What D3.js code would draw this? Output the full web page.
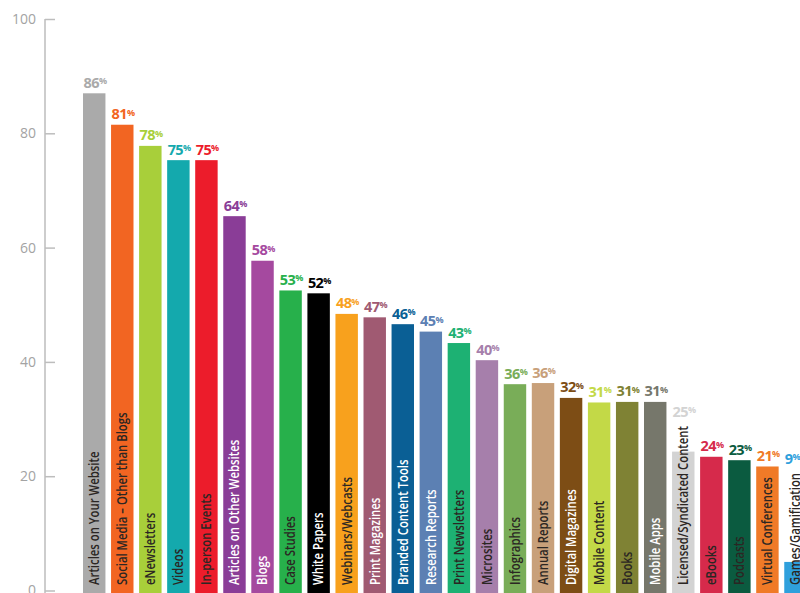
<!DOCTYPE html>
<html>
<head>
<meta charset="utf-8">
<script src="https://cdn.jsdelivr.net/npm/d3@7"></script>
<style>
    body { margin: 0; background: #fff; }
    #chart { width: 800px; height: 593px; overflow: hidden; }
    .tick text { font-family: "Open Sans", sans-serif; font-size: 14px; fill: #a3a3a3; }
    .pct { font-family: "Open Sans", sans-serif; font-weight: 700; font-size: 14.5px; letter-spacing: -0.6px; }
    .cat { font-family: "Open Sans", sans-serif; font-size: 13.5px; font-weight: 600; }
</style>
</head>
<body>
<div id="chart"></div>
<script>
// categories, left to right
var categories = [
    "Articles on Your Website", "Social Media \u2013 Other than Blogs", "eNewsletters", "Videos",
    "In-person Events", "Articles on Other Websites", "Blogs", "Case Studies", "White Papers",
    "Webinars/Webcasts", "Print Magazines", "Branded Content Tools", "Research Reports",
    "Print Newsletters", "Microsites", "Infographics", "Annual Reports", "Digital Magazines",
    "Mobile Content", "Books", "Mobile Apps", "Licensed/Syndicated Content", "eBooks",
    "Podcasts", "Virtual Conferences", "Games/Gamification"
];

// printed percentages
var shares = [86, 81, 78, 75, 75, 64, 58, 53, 52, 48, 47, 46, 45, 43, 40, 36, 36, 32, 31, 31, 31, 25, 24, 23, 21, 9];

// bar heights as drawn in the picture (read against the axis)
var barLevels = [87, 81.5, 77.8, 75.3, 75.3, 65.5, 57.7, 52.5, 52, 48.4, 47.8, 46.6, 45.3, 43.3, 40.3,
    36.1, 36.3, 33.7, 32.9, 33, 33, 24.3, 23.4, 22.8, 21.7, 5];

var barColors = [
    "#aaaaaa", "#f26522", "#a8cf3a", "#14a9ad", "#ec1c2b", "#8a3d97", "#a5499f", "#27b04b", "#000000",
    "#f8a11d", "#a05a72", "#0a5f95", "#5c80b3", "#1db173", "#a67fab", "#79ad58", "#c8a07a", "#7d4d15",
    "#c3d947", "#7f8234", "#76776b", "#d3d3d3", "#d62a4b", "#0b5b40", "#f07a27", "#2fa0dc"
];

// label text inside the bars: "d" dark, "w" white
var textTones = ["d", "d", "d", "d", "d", "w", "w", "d", "w", "d", "w", "w", "w", "d", "d", "d", "d", "w",
    "d", "d", "w", "d", "d", "d", "d", "d"];

var tickValues = [0, 20, 40, 60, 80, 100];

function init() {
    var w = 800;
    var h = 593;
    var textBase = 585;
    var squeeze = 0.84;

    var svg = d3.select("#chart")
        .append("svg")
        .attr("width", w)
        .attr("height", h);

    var yScale = d3.scaleLinear()
        .domain([0, 100])
        .range([590.5, 19]);

    var xScale = d3.scaleBand()
        .domain(categories)
        .range([80.2, 809.5])
        .paddingInner(0.2)
        .paddingOuter(0.1);

    // y axis, ticks point into the plot
    var yAxis = d3.axisLeft(yScale)
        .tickValues(tickValues)
        .tickSizeInner(-10)
        .tickSizeOuter(0)
        .tickPadding(9);

    var axisG = svg.append("g")
        .attr("transform", "translate(45,0)")
        .call(yAxis);

    axisG.select(".domain")
        .attr("stroke", "#bdbdbd")
        .attr("stroke-width", 1.5)
        .attr("d", "M0," + yScale(100) + "V" + h);
    axisG.selectAll(".tick line")
        .attr("stroke", "#bdbdbd")
        .attr("stroke-width", 1.5);

    var rows = categories.map(function (c, i) {
        return { name: c, share: shares[i], level: barLevels[i], color: barColors[i], tone: textTones[i] };
    });

    // bars
    svg.selectAll(".bar")
        .data(rows)
        .enter()
        .append("rect")
        .attr("class", "bar")
        .attr("x", function (d) { return xScale(d.name); })
        .attr("y", function (d) { return yScale(d.level); })
        .attr("width", xScale.bandwidth())
        .attr("height", function (d) { return h - yScale(d.level) + 2; })
        .attr("fill", function (d) { return d.color; });

    // category names, rotated inside the bars
    svg.selectAll(".cat")
        .data(rows)
        .enter()
        .append("text")
        .attr("class", "cat")
        .attr("transform", function (d) {
            return "translate(" + (xScale(d.name) + xScale.bandwidth() / 2) + "," + textBase + ") rotate(-90) scale(" + squeeze + ",1)";
        })
        .attr("dy", "0.36em")
        .attr("fill", function (d) { return d.tone === "w" ? "#ffffff" : "#2b2623"; })
        .text(function (d) { return d.name; })
        .each(function (d) {
            // top end of the name, so a label never sits on it
            d.textTop = textBase - this.getComputedTextLength() * squeeze;
        });

    // percent labels above bars (or above the name when it sticks out)
    var pct = svg.selectAll(".pct")
        .data(rows)
        .enter()
        .append("text")
        .attr("class", "pct")
        .attr("x", function (d) { return xScale(d.name) + 0.5; })
        .attr("y", function (d) {
            var barTop = yScale(d.level);
            if (d.textTop < barTop) {
                return d.textTop - 9;
            }
            return barTop - 5.5;
        })
        .attr("fill", function (d) { return d.color; });

    pct.append("tspan")
        .text(function (d) { return d.share; });
    pct.append("tspan")
        .attr("font-size", "9px")
        .attr("dy", -3.5)
        .text("%");
}

window.onload = init;
</script>
</body>
</html>
